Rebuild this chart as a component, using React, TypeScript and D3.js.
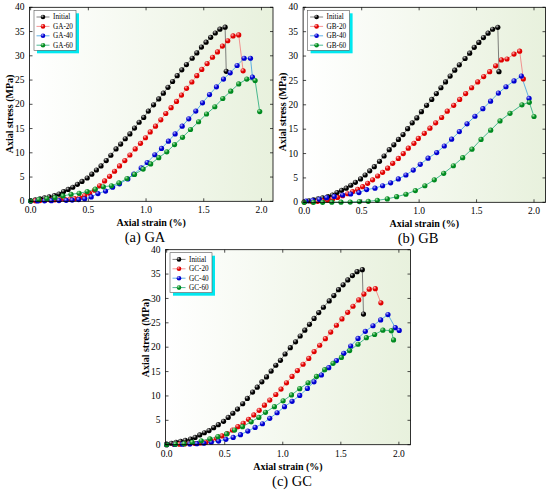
import React from "react";
import * as d3 from "d3";

type Pt = [number, number];

// strain (%), stress (MPa)
const initial: Pt[] = [
  [0.0, 0.1], [0.04, 0.3], [0.08, 0.5], [0.12, 0.7], [0.16, 0.9], [0.205, 1.15], [0.245, 1.5],
  [0.285, 2.0], [0.325, 2.45], [0.365, 2.9], [0.405, 3.5], [0.445, 4.1], [0.49, 4.8], [0.53, 5.6],
  [0.57, 6.45], [0.61, 7.3], [0.655, 8.4], [0.695, 9.5], [0.74, 10.8], [0.78, 11.8], [0.82, 12.9],
  [0.86, 13.9], [0.9, 15.1], [0.94, 16.3], [0.98, 17.3], [1.02, 18.6], [1.065, 19.9], [1.11, 21.1],
  [1.15, 22.3], [1.19, 23.5], [1.23, 24.7], [1.27, 25.9], [1.31, 27.1], [1.35, 28.2], [1.4, 29.5],
  [1.44, 30.6], [1.48, 31.8], [1.52, 32.8], [1.56, 33.8], [1.6, 34.7], [1.64, 35.5], [1.685, 35.9],
  [1.695, 26.8],
];

const ga20: Pt[] = [
  [0.0, 0.05], [0.04, 0.1], [0.08, 0.15], [0.125, 0.2], [0.17, 0.25], [0.21, 0.3], [0.255, 0.35],
  [0.295, 0.4], [0.34, 0.45], [0.381, 0.55], [0.424, 0.75], [0.468, 1.15], [0.511, 1.65], [0.554, 2.3],
  [0.597, 3.2], [0.641, 4.2], [0.684, 5.15], [0.727, 6.2], [0.77, 7.3], [0.816, 8.4], [0.86, 9.55],
  [0.906, 10.8], [0.952, 11.95], [0.995, 13.1], [1.036, 14.3], [1.082, 15.5], [1.128, 16.8],
  [1.171, 18.1], [1.217, 19.3], [1.264, 20.6], [1.307, 21.9], [1.351, 23.3], [1.397, 24.6],
  [1.44, 25.9], [1.483, 27.2], [1.529, 28.4], [1.576, 29.7], [1.619, 30.8], [1.662, 32.0],
  [1.708, 33.1], [1.754, 34.1], [1.803, 34.3], [1.841, 26.9],
];

const ga40: Pt[] = [
  [0.0, 0.05], [0.06, 0.08], [0.12, 0.1], [0.18, 0.12], [0.245, 0.15], [0.308, 0.2], [0.36, 0.25],
  [0.416, 0.35], [0.468, 0.5], [0.525, 0.9], [0.583, 1.6], [0.649, 2.1], [0.71, 2.9], [0.77, 3.6],
  [0.842, 4.6], [0.894, 5.6], [0.958, 6.9], [1.01, 8.0], [1.076, 9.6], [1.134, 10.9], [1.194, 12.4],
  [1.252, 13.9], [1.313, 15.5], [1.37, 17.0], [1.431, 18.6], [1.489, 20.3], [1.55, 22.0],
  [1.61, 23.6], [1.671, 25.2], [1.729, 26.5], [1.789, 28.0], [1.85, 29.5], [1.905, 29.5],
  [1.922, 25.6],
];

const ga60: Pt[] = [
  [0.0, 0.1], [0.07, 0.35], [0.14, 0.55], [0.21, 0.75], [0.28, 1.1], [0.35, 1.45], [0.42, 1.65],
  [0.49, 2.0], [0.56, 2.5], [0.63, 3.0], [0.7, 3.2], [0.765, 3.8], [0.835, 4.7], [0.9, 5.55],
  [0.975, 6.65], [1.04, 7.7], [1.11, 9.0], [1.18, 10.2], [1.247, 11.7], [1.316, 13.2], [1.385, 14.8],
  [1.455, 16.4], [1.524, 18.0], [1.596, 19.5], [1.665, 21.2], [1.734, 22.7], [1.803, 24.2],
  [1.873, 25.2], [1.945, 24.9], [1.985, 18.5],
];

const gb20: Pt[] = [
  [0.0, 0.05], [0.07, 0.1], [0.116, 0.2], [0.16, 0.3], [0.203, 0.45], [0.247, 0.7], [0.29, 1.0],
  [0.334, 1.35], [0.378, 1.75], [0.421, 2.2], [0.465, 2.65], [0.508, 3.2], [0.552, 3.9], [0.595, 4.6],
  [0.639, 5.4], [0.682, 6.15], [0.726, 7.0], [0.77, 8.0], [0.819, 9.0], [0.862, 10.0], [0.906, 11.1],
  [0.955, 12.1], [0.993, 13.1], [1.045, 14.15], [1.094, 15.2], [1.144, 16.3], [1.196, 17.4],
  [1.245, 18.7], [1.301, 19.9], [1.353, 21.1], [1.405, 22.3], [1.457, 23.5], [1.51, 24.7],
  [1.562, 25.8], [1.614, 26.8], [1.666, 28.0], [1.716, 29.2], [1.765, 29.4], [1.826, 30.4],
  [1.875, 31.0], [1.907, 25.3],
];

const gb40: Pt[] = [
  [0.015, 0.25], [0.073, 0.4], [0.131, 0.6], [0.195, 0.95], [0.261, 1.2], [0.334, 1.5], [0.404, 1.7],
  [0.476, 2.0], [0.543, 2.6], [0.616, 2.9], [0.682, 3.4], [0.752, 4.0], [0.819, 4.8], [0.885, 5.6],
  [0.949, 6.6], [1.01, 7.8], [1.078, 9.05], [1.153, 10.2], [1.219, 11.55], [1.283, 12.95],
  [1.35, 14.5], [1.417, 16.1], [1.486, 17.65], [1.555, 19.2], [1.622, 20.75], [1.69, 22.4],
  [1.756, 23.7], [1.826, 24.9], [1.89, 25.9], [1.957, 21.3],
];

const gb60: Pt[] = [
  [0.0, 0.0], [0.08, 0.0], [0.16, 0.0], [0.24, 0.02], [0.32, 0.03], [0.4, 0.05], [0.48, 0.15],
  [0.557, 0.2], [0.636, 0.4], [0.723, 0.7], [0.804, 1.15], [0.885, 1.65], [0.967, 2.4], [1.05, 3.4],
  [1.132, 4.6], [1.214, 5.95], [1.298, 7.5], [1.379, 9.15], [1.46, 10.9], [1.539, 12.9],
  [1.623, 14.8], [1.704, 16.7], [1.791, 18.25], [1.895, 20.0], [1.959, 20.5], [2.0, 17.6],
];

const gc20: Pt[] = [
  [0.0, 0.0], [0.065, 0.05], [0.11, 0.1], [0.155, 0.15], [0.2, 0.2], [0.245, 0.25], [0.29, 0.35],
  [0.338, 0.5], [0.384, 0.8], [0.43, 1.25], [0.476, 1.8], [0.521, 2.3], [0.567, 3.0], [0.613, 3.7],
  [0.659, 4.4], [0.705, 5.2], [0.751, 6.1], [0.797, 7.05], [0.842, 8.1], [0.888, 9.15], [0.94, 10.3],
  [0.985, 11.4], [1.032, 12.7], [1.08, 14.0], [1.126, 15.2], [1.175, 16.5], [1.224, 17.7],
  [1.27, 19.1], [1.318, 20.4], [1.367, 21.75], [1.413, 23.1], [1.462, 24.5], [1.51, 25.8],
  [1.559, 27.15], [1.605, 28.4], [1.654, 29.7], [1.699, 30.9], [1.745, 31.9], [1.797, 32.0],
  [1.845, 29.1],
];

const gc40: Pt[] = [
  [0.0, 0.0], [0.07, 0.05], [0.135, 0.1], [0.2, 0.15], [0.26, 0.2], [0.321, 0.3], [0.384, 0.5],
  [0.447, 0.75], [0.51, 1.1], [0.573, 1.5], [0.636, 2.05], [0.699, 2.8], [0.762, 3.55], [0.825, 4.3],
  [0.888, 5.4], [0.951, 6.55], [1.015, 7.8], [1.08, 8.9], [1.146, 10.1], [1.212, 11.55],
  [1.269, 12.9], [1.333, 14.3], [1.396, 15.8], [1.462, 17.25], [1.525, 18.75], [1.585, 20.25],
  [1.648, 21.8], [1.711, 23.25], [1.777, 24.4], [1.843, 25.6], [1.906, 26.7], [1.969, 24.0],
  [2.003, 23.45],
];

const gc60: Pt[] = [
  [0.0, 0.0], [0.075, 0.1], [0.15, 0.2], [0.22, 0.5], [0.298, 0.8], [0.372, 1.2], [0.441, 1.65],
  [0.516, 2.2], [0.585, 3.0], [0.653, 3.7], [0.728, 4.7], [0.794, 5.6], [0.851, 6.65], [0.928, 7.8],
  [1.003, 9.0], [1.075, 10.2], [1.146, 11.5], [1.218, 12.7], [1.29, 14.0], [1.361, 15.4],
  [1.433, 16.7], [1.505, 17.9], [1.576, 19.3], [1.648, 20.6], [1.72, 21.95], [1.791, 22.6],
  [1.862, 23.5], [1.935, 23.4], [1.954, 21.5],
];

const levels = ["-20", "-40", "-60"];
const xTicks = [0, 0.5, 1.0, 1.5, 2.0];
const yTicks = [0, 5, 10, 15, 20, 25, 30, 35, 40];

const dotLight = ["#c8c8c8", "#ffc0c0", "#b8b8ff", "#b0e8b0"];
const dotDark = ["#000000", "#e00000", "#0000d0", "#008a20"];
const lineColors = ["#606060", "#f27a7a", "#3a9ee0", "#20a878"];

const FONT = "'Liberation Serif', 'Times New Roman', serif";

interface PanelSpec {
  tag: string;
  group: string;
  series: Pt[][];
  left: number;
  top: number;
  w: number;
  h: number;
  yTitleY: number;
  subX: number;
}

const panels: PanelSpec[] = [
  { tag: "(a)", group: "GA", series: [initial, ga20, ga40, ga60], left: 29.5, top: 7.3, w: 243.5, h: 194, yTitleY: 114, subX: 145 },
  { tag: "(b)", group: "GB", series: [initial, gb20, gb40, gb60], left: 303.1, top: 7.3, w: 242.4, h: 195, yTitleY: 112, subX: 418 },
  { tag: "(c)", group: "GC", series: [initial, gc20, gc40, gc60], left: 165.5, top: 249.7, w: 245, h: 195, yTitleY: 338, subX: 292 },
];

const Panel: React.FC<{ p: PanelSpec }> = ({ p }) => {
  const x = d3.scaleLinear().domain([-0.01, 2.1]).range([0, p.w]);
  const y = d3.scaleLinear().domain([0, 40]).range([p.h, 0]);
  const line = d3.line<Pt>().x((d) => x(d[0])).y((d) => y(d[1]));
  const names = ["Initial", ...levels.map((l) => p.group + l)];
  const lg = { x: 4.5, y: 3, w: 42, h: 40 };

  return (
    <g transform={`translate(${p.left},${p.top})`}>
      <rect width={p.w} height={p.h} fill="url(#bgGrad)" />
      {p.series.map((s, i) => (
        <path key={"l" + i} d={line(s) || ""} fill="none" stroke={lineColors[i]} strokeWidth={0.8} />
      ))}
      {p.series.map((s, i) => (
        <g key={"m" + i}>
          {s.map((d, j) => (
            <circle key={j} cx={x(d[0])} cy={y(d[1])} r={2.6} fill={`url(#ball${i})`} />
          ))}
        </g>
      ))}
      <rect width={p.w} height={p.h} fill="none" stroke="#000" strokeWidth={0.8} />

      {xTicks.map((t) => (
        <g key={"xt" + t}>
          <line x1={x(t)} x2={x(t)} y1={p.h} y2={p.h - 3} stroke="#000" strokeWidth={0.7} />
          <line x1={x(t)} x2={x(t)} y1={0} y2={3} stroke="#000" strokeWidth={0.7} />
          <text x={x(t)} y={p.h + 12} textAnchor="middle" fontSize={9.5} fontFamily={FONT}>
            {d3.format(".1f")(t)}
          </text>
        </g>
      ))}
      {yTicks.map((t) => (
        <g key={"yt" + t}>
          <line x1={0} x2={3} y1={y(t)} y2={y(t)} stroke="#000" strokeWidth={0.7} />
          <line x1={p.w} x2={p.w - 3} y1={y(t)} y2={y(t)} stroke="#000" strokeWidth={0.7} />
          <text x={-5} y={y(t)} dy="0.33em" textAnchor="end" fontSize={9.5} fontFamily={FONT}>
            {t}
          </text>
        </g>
      ))}

      <text x={p.w / 2} y={p.h + 25} textAnchor="middle" fontSize={10} fontWeight="bold" fontFamily={FONT}>
        Axial strain (%)
      </text>
      <text
        transform={`translate(-20.5,${p.yTitleY - p.top}) rotate(-90)`}
        textAnchor="middle"
        dy="0.35em"
        fontSize={10}
        fontWeight="bold"
        fontFamily={FONT}
      >
        Axial stress (MPa)
      </text>
      <text x={p.subX - p.left} y={p.h + 41} textAnchor="middle" fontSize={14.5} fontFamily={FONT}>
        {p.tag} {p.group}
      </text>

      <g transform={`translate(${lg.x},${lg.y})`}>
        <rect x={3} y={3} width={lg.w} height={lg.h} fill="#00e8f0" />
        <rect width={lg.w} height={lg.h} fill="#fff" stroke="#555" strokeWidth={0.6} />
        {names.map((n, i) => {
          const ry = 6.7 + i * 9.4;
          return (
            <g key={n}>
              <line x1={2.5} x2={15.5} y1={ry} y2={ry} stroke={lineColors[i]} strokeWidth={0.8} />
              <circle cx={9} cy={ry} r={2.3} fill={`url(#ball${i})`} />
              <text x={19} y={ry} dy="0.33em" fontSize={7.2} fontFamily={FONT}>
                {n}
              </text>
            </g>
          );
        })}
      </g>
    </g>
  );
};

const App: React.FC = () => (
  <div style={{ position: "absolute", left: 0, top: 0 }}>
    <svg width={550} height={494} style={{ display: "block", background: "#fff" }}>
      <defs>
        <linearGradient id="bgGrad" x1="0" y1="0" x2="1" y2="0">
          <stop offset="0" stopColor="#ffffff" />
          <stop offset="1" stopColor="#e8f1dd" />
        </linearGradient>
        {dotDark.map((c, i) => (
          <radialGradient key={i} id={`ball${i}`} cx="0.38" cy="0.35" r="0.65" fx="0.35" fy="0.3">
            <stop offset="0" stopColor={dotLight[i]} />
            <stop offset="0.55" stopColor={c} />
            <stop offset="1" stopColor={c} />
          </radialGradient>
        ))}
      </defs>
      {panels.map((p) => (
        <Panel key={p.group} p={p} />
      ))}
    </svg>
  </div>
);

export default App;
